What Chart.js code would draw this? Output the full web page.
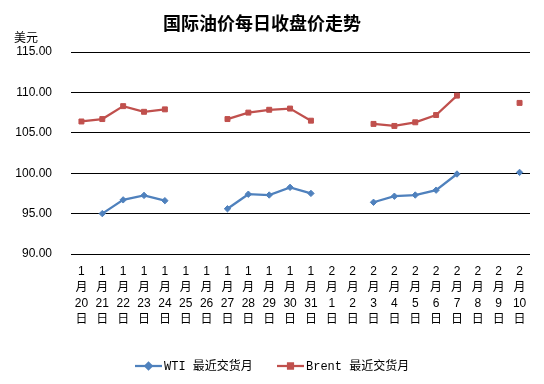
<!DOCTYPE html>
<html>
<head>
<meta charset="utf-8">
<script src="https://cdn.jsdelivr.net/npm/chart.js@4"></script>
<style>
html,body{margin:0;padding:0;background:#fff;}
#wrap{width:544px;height:384px;position:relative;}
</style>
</head>
<body>
<div id="wrap"><canvas id="c" width="544" height="384"></canvas></div>
<script>
const months = ["1","1","1","1","1","1","1","1","1","1","1","1","2","2","2","2","2","2","2","2","2","2"];
const days = ["20","21","22","23","24","25","26","27","28","29","30","31","1","2","3","4","5","6","7","8","9","10"];
const wti = [null,95.0,96.7,97.25,96.6,null,null,95.6,97.4,97.3,98.25,97.5,null,null,96.4,97.15,97.3,97.9,99.9,null,null,100.1];
const brent = [106.4,106.7,108.3,107.6,107.9,null,null,106.7,107.5,107.85,108.0,106.5,null,null,106.1,105.85,106.3,107.2,109.6,null,null,108.7];
const yTicks = [90,95,100,105,110,115];
const seriesNames = ["WTI 最近交货月","Brent 最近交货月"];
const titleText = "国际油价每日收盘价走势";
const unitText = "美元";

const BLUE = "#4F81BD", RED = "#C0504D";
const labels = months.map((m,i)=>[m,"月",days[i],"日"]);
const tickFont = "Liberation Sans, Arial, 'Noto Sans CJK SC', sans-serif";

const extras = {
  id:'extras',
  afterDraw(chart){
    const ctx = chart.ctx;
    ctx.save();
    ctx.fillStyle = "#000";
    ctx.font = "bold 18px 'Noto Sans CJK SC', sans-serif";
    ctx.textAlign = "center"; ctx.textBaseline = "middle";
    ctx.fillText(titleText, 262, 23);
    ctx.font = "12px 'Noto Sans CJK SC', sans-serif";
    ctx.textAlign = "left";
    ctx.fillText(unitText, 14, 37);
    // legend
    const items = [
      {x:135, color:BLUE, style:'rectRot', text:seriesNames[0]},
      {x:277, color:RED, style:'rect', text:seriesNames[1]}
    ];
    items.forEach(it=>{
      ctx.strokeStyle = it.color; ctx.lineWidth = 2.25;
      ctx.beginPath(); ctx.moveTo(it.x,366); ctx.lineTo(it.x+27,366); ctx.stroke();
      Chart.helpers.drawPoint(ctx,{pointStyle:it.style,radius:it.style==='rect'?3.5:3.2,rotation:0,borderWidth:1},it.x+13.5,366);
      ctx.fillStyle = it.color;
      ctx.beginPath();
      if(it.style==='rect'){ctx.rect(it.x+10,362.5,7,7);} else {ctx.moveTo(it.x+13.5,362.5);ctx.lineTo(it.x+17,366);ctx.lineTo(it.x+13.5,369.5);ctx.lineTo(it.x+10,366);ctx.closePath();}
      ctx.fill();
      ctx.fillStyle = "#000";
      ctx.font = "12px 'Liberation Mono', 'Noto Sans CJK SC', monospace";
      ctx.textAlign = "left"; ctx.textBaseline = "middle";
      ctx.fillText(it.text, it.x+29, 367);
    });
    ctx.restore();
  }
};

new Chart(document.getElementById('c'), {
  type:'line',
  data:{
    labels: labels,
    datasets:[
      {label:seriesNames[0], data:wti, borderColor:BLUE, backgroundColor:BLUE, borderWidth:2.25,
       pointStyle:'rectRot', pointRadius:3.2, pointBorderWidth:1, spanGaps:false, tension:0},
      {label:seriesNames[1], data:brent, borderColor:RED, backgroundColor:RED, borderWidth:2.25,
       pointStyle:'rect', pointRadius:3.5, pointBorderWidth:1, spanGaps:false, tension:0}
    ]
  },
  options:{
    responsive:false, animation:false,
    layout:{padding:{left:0,right:14,top:52,bottom:0}},
    plugins:{legend:{display:false}, title:{display:false}, tooltip:{enabled:false}},
    scales:{
      x:{
        offset:true,
        grid:{display:false, drawTicks:false},
        border:{display:false},
        ticks:{color:"#000", font:{family:tickFont,size:12,lineHeight:1.33}, padding:10, maxRotation:0, autoSkip:false},
        afterFit(s){ s.height = 130; }
      },
      y:{
        min:90, max:115,
        afterBuildTicks(s){ s.ticks = yTicks.map(v=>({value:v})); },
        grid:{color:"#000", lineWidth:1, drawTicks:false},
        border:{display:false},
        ticks:{color:"#000", font:{family:tickFont,size:12}, padding:19, callback:v=>Number(v).toFixed(2)},
        afterFit(s){ s.width = 71; }
      }
    }
  },
  plugins:[extras]
});
</script>
</body>
</html>
